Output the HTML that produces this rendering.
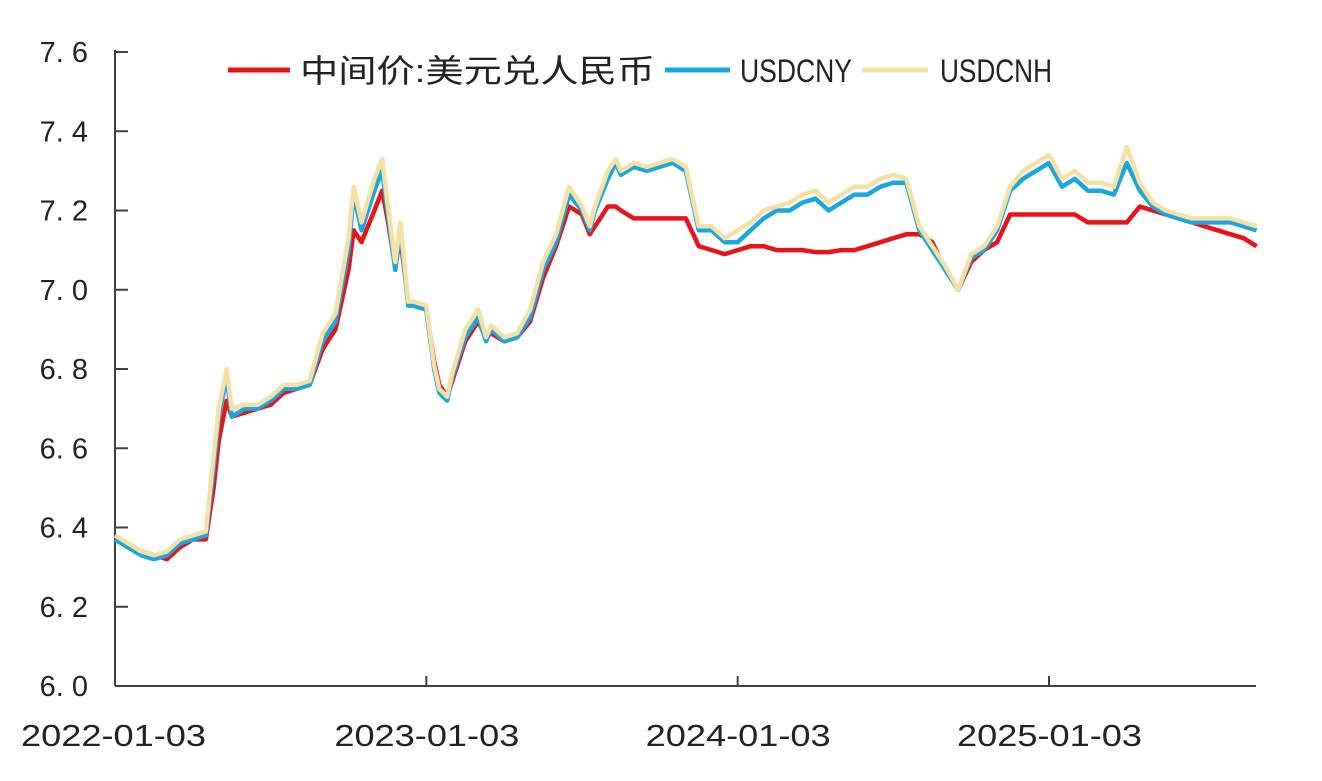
<!DOCTYPE html>
<html><head><meta charset="utf-8"><style>
body{margin:0;background:#fff;}
svg{display:block;font-family:"Liberation Sans","Noto Sans CJK SC",sans-serif;}
</style></head><body>
<svg id="chart" width="1322" height="781"></svg>
<script>
const months = [0,0.5,1,1.5,2,2.5,3,3.5,3.8,4,4.3,4.5,5,5.5,6,6.5,7,7.5,8,8.5,9,9.2,9.5,10,10.3,10.5,10.8,11,11.3,11.5,12,12.3,12.5,12.8,13,13.5,14,14.3,14.5,15,15.5,16,16.5,17,17.5,18,18.3,18.5,19,19.3,19.5,20,20.5,21,21.5,22,22.5,23,23.5,24,24.5,25,25.5,26,26.5,27,27.5,28,28.5,29,29.5,30,30.5,31,31.5,32,32.5,33,33.5,34,34.5,35,35.5,36,36.5,37,37.5,38,38.5,39,39.5,40,40.5,41,41.5,42,42.5,43,43.5,44];
const cny = [6.37,6.35,6.33,6.32,6.33,6.36,6.37,6.38,6.55,6.68,6.78,6.68,6.70,6.70,6.72,6.75,6.75,6.76,6.87,6.92,7.10,7.24,7.15,7.25,7.30,7.20,7.05,7.15,6.96,6.96,6.95,6.80,6.74,6.72,6.78,6.88,6.93,6.87,6.90,6.87,6.88,6.93,7.05,7.12,7.24,7.20,7.15,7.20,7.28,7.32,7.29,7.31,7.30,7.31,7.32,7.30,7.15,7.15,7.12,7.12,7.15,7.18,7.20,7.20,7.22,7.23,7.20,7.22,7.24,7.24,7.26,7.27,7.27,7.15,7.10,7.05,7.00,7.08,7.10,7.15,7.25,7.28,7.30,7.32,7.26,7.28,7.25,7.25,7.24,7.32,7.25,7.21,7.19,7.18,7.17,7.17,7.17,7.17,7.16,7.15];
const cnh = [6.38,6.36,6.34,6.33,6.34,6.37,6.38,6.39,6.58,6.70,6.80,6.70,6.71,6.71,6.73,6.76,6.76,6.77,6.89,6.94,7.13,7.26,7.17,7.28,7.33,7.22,7.07,7.17,6.97,6.97,6.96,6.81,6.75,6.73,6.79,6.90,6.95,6.88,6.91,6.88,6.89,6.95,7.07,7.14,7.26,7.21,7.16,7.21,7.30,7.33,7.30,7.32,7.31,7.32,7.33,7.31,7.16,7.16,7.13,7.15,7.17,7.20,7.21,7.22,7.24,7.25,7.22,7.24,7.26,7.26,7.28,7.29,7.28,7.16,7.11,7.06,7.00,7.09,7.11,7.16,7.26,7.30,7.32,7.34,7.28,7.30,7.27,7.27,7.26,7.36,7.27,7.22,7.20,7.19,7.18,7.18,7.18,7.18,7.17,7.16];
const fix = [6.37,6.36,6.34,6.33,6.32,6.35,6.37,6.37,6.50,6.62,6.72,6.68,6.69,6.70,6.71,6.74,6.75,6.76,6.85,6.90,7.05,7.15,7.12,7.20,7.25,7.18,7.06,7.13,6.97,6.96,6.95,6.82,6.76,6.73,6.77,6.87,6.92,6.88,6.89,6.87,6.88,6.92,7.03,7.11,7.21,7.19,7.14,7.16,7.21,7.21,7.20,7.18,7.18,7.18,7.18,7.18,7.11,7.10,7.09,7.10,7.11,7.11,7.10,7.10,7.10,7.095,7.095,7.10,7.10,7.11,7.12,7.13,7.14,7.14,7.12,7.05,7.00,7.07,7.10,7.12,7.19,7.19,7.19,7.19,7.19,7.19,7.17,7.17,7.17,7.17,7.21,7.20,7.19,7.18,7.17,7.16,7.15,7.14,7.13,7.11];
const yTicks = [6.0,6.2,6.4,6.6,6.8,7.0,7.2,7.4,7.6];
const xTickMonths = [0,12,24,36];
const xTickLabels = ["2022-01-03","2023-01-03","2024-01-03","2025-01-03"];

const NS="http://www.w3.org/2000/svg";
const svg=document.getElementById('chart');
const X0=115,X1=1256,Y0=686,Y1=52;
const xS=m=>X0+m*(1049-115)/36;
const yS=v=>Y0-(v-6.0)/(7.6-6.0)*(Y0-Y1);
function mk(t,a){const e=document.createElementNS(NS,t);for(const k in a)e.setAttribute(k,a[k]);svg.appendChild(e);return e;}

const ya=mk('line',{x1:X0,y1:Y1-2,x2:X0,y2:Y0,stroke:'#404040','stroke-width':2});


const xa=mk('line',{x1:X0,y1:Y0,x2:X1,y2:Y0,stroke:'#404040','stroke-width':2});


yTicks.forEach(v=>{
  const t=mk('line',{x1:X0,y1:yS(v),x2:X0+13,y2:yS(v),stroke:'#404040','stroke-width':2});
  
  
  const l=mk('text',{x:88,y:yS(v)+10,'text-anchor':'end','font-size':29,fill:'#222'});
  l.textContent=v.toFixed(1).replace('.','. ');
  
  
});
xTickMonths.forEach((m,i)=>{
  if(i>0){const t=mk('line',{x1:xS(m),y1:Y0,x2:xS(m),y2:Y0-10,stroke:'#404040','stroke-width':2});
  
  }
  const cx=i==0?xS(m)-2:xS(m);
  const l=mk('text',{x:cx-92,y:746,'font-size':31,fill:'#222',textLength:185,lengthAdjust:'spacingAndGlyphs'});
  l.textContent=xTickLabels[i];
  
  
});
function series(arr,color,name){
  const d=arr.map((v,i)=>(i?'L':'M')+xS(months[i]).toFixed(1)+' '+yS(v).toFixed(1)).join(' ');
  const p=mk('path',{d:d,fill:'none',stroke:color,'stroke-width':4.5,'stroke-linejoin':'round'});
  
  
}
series(fix,'#e8141a','series-midpoint');
series(cny,'#1aa7e0','series-usdcny');
series(cnh,'#f5e0a6','series-usdcnh');

const leg=[[228,290,'#e8141a','中间价:美元兑人民币',300,355],[665,730,'#1aa7e0','USDCNY',740,112],[862,928,'#f5e0a6','USDCNH',940,112]];
leg.forEach(e=>{
  const l=mk('line',{x1:e[0],y1:70,x2:e[1],y2:70,stroke:e[2],'stroke-width':5});
  
  
  const t=mk('text',{x:e[4],y:82,'font-size':32,fill:'#222',textLength:e[5],lengthAdjust:'spacingAndGlyphs'});
  t.textContent=e[3];
  
  
});
</script>
</body></html>
